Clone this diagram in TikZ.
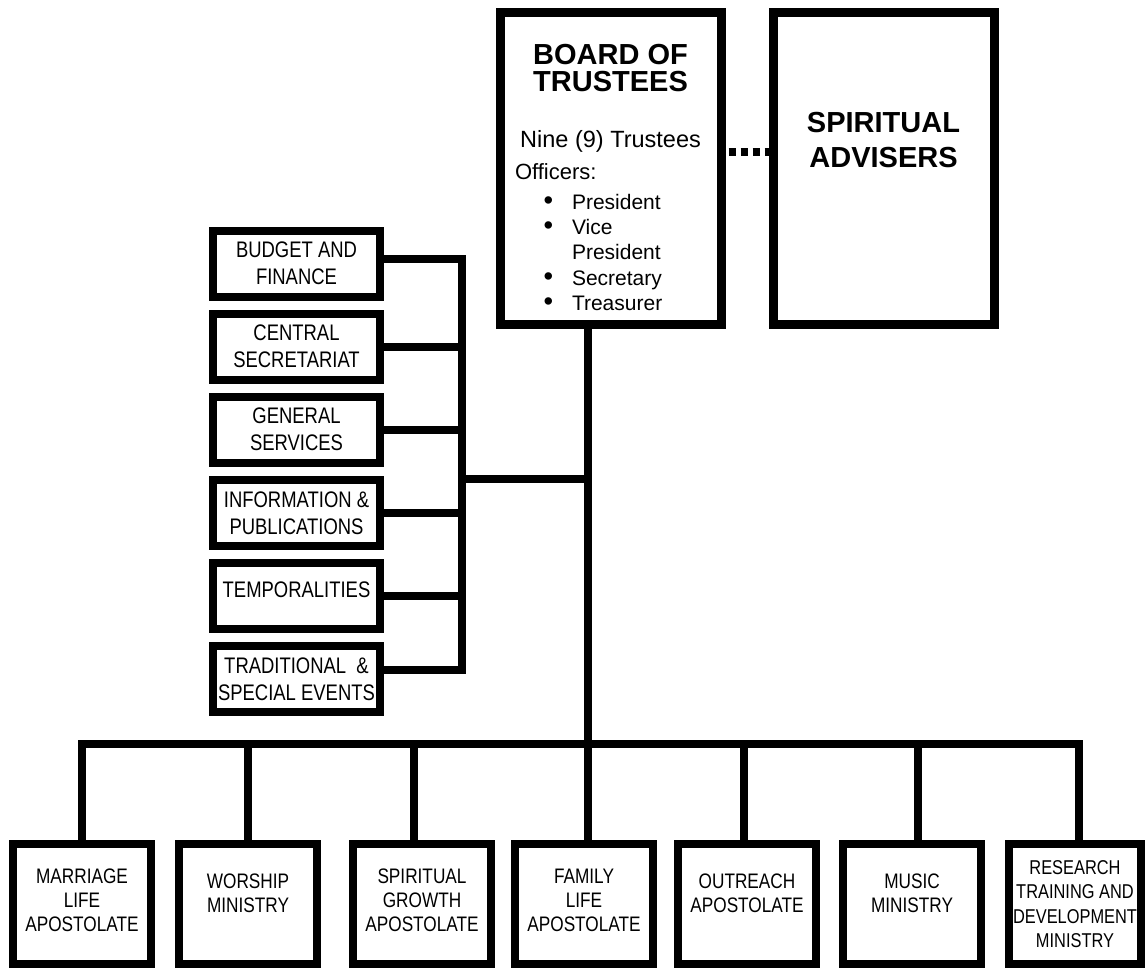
\documentclass[tikz,border=0pt]{standalone}
\usepackage{fontspec}
\usepackage{graphicx}
\setmainfont{Liberation Sans}
\newfontfamily\narrowfont[FakeStretch=0.82]{Liberation Sans}
\newcommand{\officerbullet}{\makebox[67pt][l]{\hspace{38.5pt}\scalebox{1.3}{\textbullet}}}
\begin{document}
\begin{tikzpicture}[x=1pt, y=-1pt, line join=miter,
	topbox/.style={rectangle, draw, line width=9pt, minimum width=221pt, minimum height=312pt, inner sep=0pt},
	sidebox/.style={rectangle, draw, line width=8pt, minimum width=167pt, minimum height=66pt, inner sep=0pt, align=center, font=\narrowfont\fontsize{22.5}{27}\selectfont},
	unitbox/.style={rectangle, draw, line width=8pt, minimum width=138pt, minimum height=120pt, inner sep=0pt, align=center, font=\narrowfont\fontsize{21}{24}\selectfont},
	link/.style={line width=8pt},
	dotlink/.style={line width=8pt, dash pattern=on 7pt off 5pt}]
	\useasboundingbox (0, 0) rectangle (1145, 967);

	% board and advisers
	\node (board) at (610.5, 168)	[topbox]	{%
		\begin{minipage}[c][296pt][t]{211pt}
		\vspace*{24pt}
		{\centering\bfseries\fontsize{29}{27}\selectfont BOARD OF\\TRUSTEES\par}
		\vspace{29pt}
		{\centering\fontsize{23.5}{27}\selectfont Nine (9) Trustees\par}
		{\fontsize{22}{32}\selectfont\hspace*{10pt}Officers:\par}
		\vspace{5pt}
		{\fontsize{21}{25.2}\selectfont
		\officerbullet President\\
		\officerbullet Vice\\
		\makebox[67pt]{}President\\
		\officerbullet Secretary\\
		\officerbullet Treasurer\par}
		\end{minipage}};
	\node (advisers) at (883.5, 168)	[topbox, align=center, text depth=57pt, font=\bfseries\fontsize{29}{35}\selectfont]	{SPIRITUAL\\ADVISERS};

	% offices on the left
	\node (budget) at (296.5, 263.5)	[sidebox]	{BUDGET AND\\FINANCE};
	\node (central) at (296.5, 346.6)	[sidebox]	{CENTRAL\\SECRETARIAT};
	\node (general) at (296.5, 429.7)	[sidebox]	{GENERAL\\SERVICES};
	\node (info) at (296.5, 512.8)	[sidebox]	{INFORMATION \&\\PUBLICATIONS};
	\node (temporal) at (296.5, 595.9)	[sidebox, text depth=12pt]	{TEMPORALITIES};
	\node (traditional) at (296.5, 679)	[sidebox]	{TRADITIONAL \ \&\\SPECIAL EVENTS};

	% ministries at the bottom
	\node (marriage) at (82, 904)	[unitbox, text depth=8pt]	{MARRIAGE\\LIFE\\APOSTOLATE};
	\node (worship) at (248, 904)	[unitbox, text depth=22pt]	{WORSHIP\\MINISTRY};
	\node (growth) at (422, 904)	[unitbox, text depth=8pt]	{SPIRITUAL\\GROWTH\\APOSTOLATE};
	\node (family) at (584, 904)	[unitbox, text depth=8pt]	{FAMILY\\LIFE\\APOSTOLATE};
	\node (outreach) at (747, 904)	[unitbox, text depth=22pt]	{OUTREACH\\APOSTOLATE};
	\node (music) at (912, 904)	[unitbox, text depth=22pt]	{MUSIC\\MINISTRY};
	\node (research) at (1075, 904)	[unitbox, minimum width=132pt, font=\narrowfont\fontsize{20}{24.5}\selectfont]	{RESEARCH\\TRAINING AND\\DEVELOPMENT\\MINISTRY};

	\coordinate (trunk) at (588, 744);
	\coordinate (lbus) at (462, 479);
	\path ([yshift=4.5pt]budget.east) coordinate (budgetlink);
	\path ([yshift=9pt]traditional.east) coordinate (tradlink);

	\draw[dotlink] ([xshift=3pt, yshift=16pt]board.east) -- ([yshift=16pt]advisers.west);
	\draw[link] (board.south -| trunk) -- (trunk) -- (trunk |- family.north);
	\draw[link] (marriage.north) |- (trunk) -| ([xshift=4pt]research.north);
	\foreach \unit/\dx in {worship/0, growth/-8, outreach/-3, music/6}
		\draw[link] ([xshift=\dx pt]\unit.north) -- ([xshift=\dx pt]\unit.north |- trunk);

	\draw[link] (lbus) -- (lbus -| trunk);
	\draw[link] (budgetlink) -| (tradlink -| lbus) -- (tradlink);
	\foreach \office in {central, general, info, temporal}
		\draw[link] (\office.east) -- (lbus |- \office.east);
\end{tikzpicture}
\end{document}
